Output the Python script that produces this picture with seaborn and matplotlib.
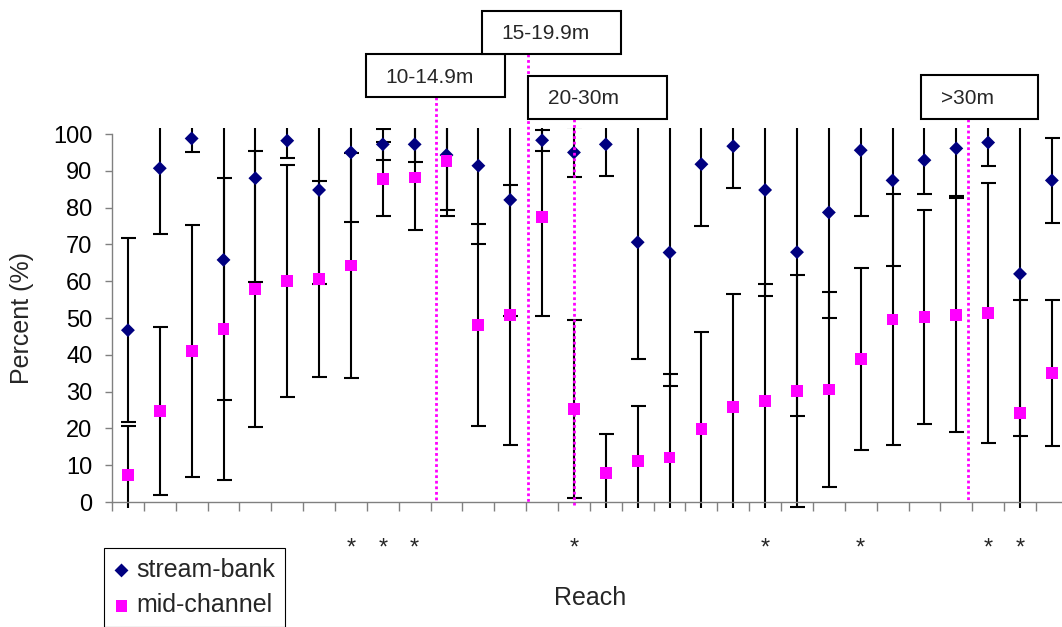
import numpy as np
import matplotlib
matplotlib.use("Agg")
import matplotlib.pyplot as plt
import seaborn as sns
from matplotlib.lines import Line2D
from matplotlib.patches import Rectangle
from matplotlib.transforms import blended_transform_factory

# ---------------- data ----------------
reaches = list(range(1, 31))
stream_bank = [46.7, 90.7, 98.8, 65.8, 88.0, 98.2, 84.8, 95.0, 97.2, 97.2,
               94.3, 91.4, 82.1, 98.3, 95.0, 97.2, 70.6, 67.8, 91.8, 96.7,
               84.8, 67.9, 78.7, 95.6, 87.4, 92.9, 96.1, 97.7, 62.0, 87.4]
stream_bank_err = [25.0, 17.9, 3.8, 38.1, 28.3, 4.6, 25.6, 18.9, 4.3, 4.9,
                   15.0, 21.4, 31.6, 2.8, 6.8, 8.6, 31.6, 36.3, 16.8, 11.4,
                   28.7, 44.4, 28.7, 18.0, 23.3, 9.2, 12.9, 6.4, 44.1, 11.5]
mid_channel = [7.3, 24.8, 41.0, 47.0, 57.8, 60.0, 60.6, 64.3, 87.8, 88.2,
               92.7, 48.1, 50.8, 77.4, 25.3, 7.8, 11.1, 12.1, 19.8, 25.9,
               27.4, 30.2, 30.6, 38.9, 49.6, 50.3, 50.8, 51.3, 24.2, 35.1]
mid_channel_err = [13.3, 22.8, 34.2, 41.0, 37.5, 31.5, 26.6, 30.5, 10.1, 14.3,
                   15.0, 27.4, 35.3, 26.9, 24.2, 10.7, 15.0, 22.7, 26.4, 30.7,
                   31.8, 31.5, 26.6, 24.7, 34.2, 29.0, 31.8, 35.3, 30.7, 19.8]
significant_reaches = [8, 9, 10, 15, 21, 24, 28, 29]
yticks = list(range(0, 101, 10))
size_class_labels = ["10-14.9m", "15-19.9m", "20-30m", ">30m"]

# ---------------- layout (pixels) ----------------
W, H = 1062, 627
def fx(px):
    return px / W
def fy(py):
    return 1 - py / H

sns.set_style("white")
plt.rcParams["font.family"] = ["Liberation Sans", "DejaVu Sans"]

fig = plt.figure(figsize=(W / 100, H / 100), dpi=100)
ax = fig.add_axes([fx(112), 118.7 / H, 955.8 / W, 380.5 / H])

pos = np.arange(len(reaches))
err_kw = dict(fmt="none", ecolor="black", elinewidth=1.5, capsize=5.4,
              capthick=1.5, zorder=2)
ax.errorbar(pos, stream_bank, yerr=stream_bank_err, **err_kw)
ax.errorbar(pos, mid_channel, yerr=mid_channel_err, **err_kw)

sns.scatterplot(x=pos, y=stream_bank, marker="D", s=50, color="#000080",
                edgecolor="none", linewidth=0, label="stream-bank", ax=ax,
                zorder=3, legend=False)
sns.scatterplot(x=pos, y=mid_channel, marker="s", s=72, color="#FF00FF",
                edgecolor="none", linewidth=0, label="mid-channel", ax=ax,
                zorder=3, legend=False)

ax.set_xlim(-0.5, len(reaches) - 0.5)
ax.set_ylim(-1.7, 101.7)
ax.set_yticks(yticks)
ax.set_xticks(np.arange(-0.5, len(reaches), 1.0))
ax.set_xticklabels([])

for s in ["top", "right"]:
    ax.spines[s].set_visible(False)
ax.spines["left"].set_bounds(0, 100)
ax.spines["bottom"].set_position(("data", 0))
for s in ["left", "bottom"]:
    ax.spines[s].set_color("#808080")
    ax.spines[s].set_linewidth(1.0)

ax.tick_params(axis="y", left=True, direction="out", length=5, width=1,
               color="#808080", labelsize=17, pad=9, labelcolor="black")
ax.tick_params(axis="x", bottom=True, direction="out", length=6.5, width=1,
               color="#808080")

ax.set_ylabel("Percent (%)", fontsize=18)
ax.yaxis.set_label_coords((22.5 - 112) / 955.8, 0.5)
ax.yaxis.label.set_va("center")
ax.set_xlabel("Reach", fontsize=18)
ax.xaxis.set_label_coords(0.5, (508.3 - 598) / 380.5)
ax.xaxis.label.set_va("center")

# significance stars
trans = blended_transform_factory(ax.transData, fig.transFigure)
for r in significant_reaches:
    ax.text(reaches.index(r), fy(555), "*", transform=trans, ha="center",
            va="baseline", fontsize=17, clip_on=False)

# legend
handles, labels = ax.get_legend_handles_labels()
leg = fig.legend(handles, labels, loc="upper left",
                 bbox_to_anchor=(fx(104), fy(548)), fontsize=18,
                 frameon=True, fancybox=False, edgecolor="black",
                 framealpha=1, borderpad=0.4, labelspacing=0.45,
                 handlelength=0.6, handletextpad=0.3, borderaxespad=0,
                 scatterpoints=1)
leg.get_frame().set_linewidth(0.8)

# size-class divider lines and boxes
divider_lines = [(435.7, 97.3, 502), (527.7, 54, 502), (574, 119, 505),
                 (967.7, 119, 502)]
for x, y0, y1 in divider_lines:
    fig.add_artist(Line2D([fx(x), fx(x)], [fy(y0), fy(y1)],
                          transform=fig.transFigure, color="#FF00FF",
                          lw=2.0, linestyle=(0, (1, 1)), zorder=5))

box_geom = [(365.7, 54, 505, 97.3), (481.7, 10.7, 620.7, 54),
            (527.7, 75.7, 666.7, 119), (920.7, 75, 1038.3, 119)]
for label, (x0, y0, x1, y1) in zip(size_class_labels, box_geom):
    fig.add_artist(Rectangle((fx(x0), fy(y1)), (x1 - x0) / W, (y1 - y0) / H,
                             transform=fig.transFigure, facecolor="white",
                             edgecolor="black", lw=1.5, zorder=6))
    fig.text(fx(x0 + 20), fy((y0 + y1) / 2 + 1.5), label, fontsize=15,
             ha="left", va="center", zorder=7)

fig.savefig("out.png", dpi=100)
